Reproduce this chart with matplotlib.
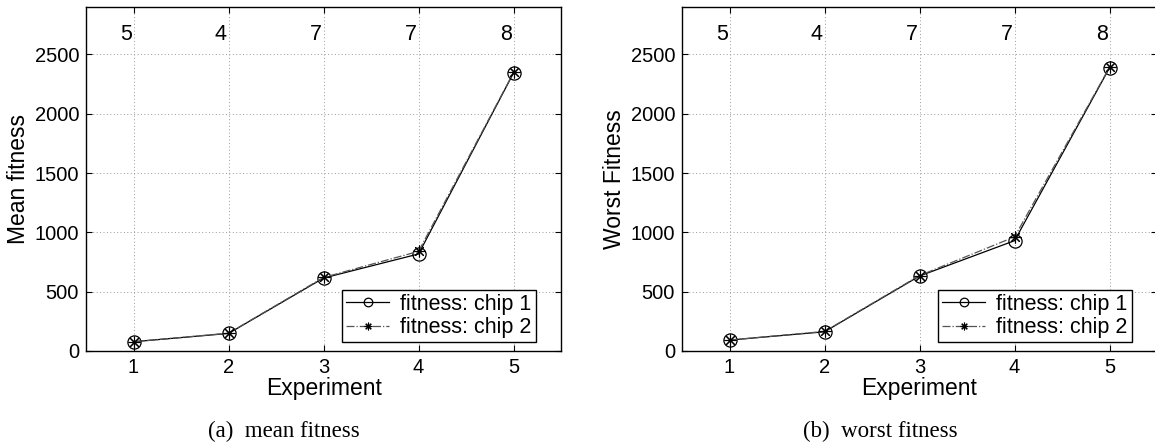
import matplotlib
matplotlib.use("Agg")
import matplotlib.pyplot as plt

experiments = [1, 2, 3, 4, 5]
top_labels = ["5", "4", "7", "7", "8"]

mean_chip1 = [78, 148, 615, 818, 2345]
mean_chip2 = [78, 150, 620, 840, 2348]

worst_chip1 = [92, 162, 632, 930, 2388]
worst_chip2 = [92, 165, 636, 962, 2392]

panels = [
    ("Mean fitness", mean_chip1, mean_chip2, "(a)  mean fitness"),
    ("Worst Fitness", worst_chip1, worst_chip2, "(b)  worst fitness"),
]

plt.rcParams['font.family'] = ['Liberation Sans', 'DejaVu Sans']

fig = plt.figure(figsize=(11.55, 4.43), dpi=100)
positions = [[0.0745, 0.2077, 0.4113, 0.7765], [0.5905, 0.2077, 0.4113, 0.7765]]
caption_x = [0.246, 0.762]

for (ylabel, c1, c2, caption), pos, cx in zip(panels, positions, caption_x):
    ax = fig.add_axes(pos)
    ax.plot(experiments, c1, color='black', lw=0.9, marker='o', ms=9.5,
            mfc='none', mec='black', mew=0.9, label='fitness: chip 1', zorder=3)
    ax.plot(experiments, c2, color='#555555', lw=0.9, ls='-.', marker=(8, 2, 0),
            ms=8.5, mec='black', mew=0.8, label='fitness: chip 2', zorder=3)
    ax.set_xlim(0.5, 5.5)
    ax.set_ylim(0, 2900)
    ax.set_xticks(experiments)
    ax.set_yticks([0, 500, 1000, 1500, 2000, 2500])
    ax.grid(True, ls=(0, (1, 2.5)), color='#999999', lw=0.7)
    ax.tick_params(direction='in', top=True, right=True, labelsize=14.5, length=4,
                   width=0.8, pad=5)
    for sp in ax.spines.values():
        sp.set_linewidth(1.0)
    ax.set_xlabel("Experiment", fontsize=16.5, labelpad=0)
    ax.set_ylabel(ylabel, fontsize=16.5, labelpad=3)
    for x, t in zip(experiments, top_labels):
        ax.text(x - 0.08, 2665, t, ha='center', va='center', fontsize=15.5)
    leg = ax.legend(loc='lower right', fontsize=15.5, handlelength=2.0,
                    fancybox=False, edgecolor='black', framealpha=1,
                    borderpad=0.2, labelspacing=0.1, handletextpad=0.5,
                    borderaxespad=0.4, bbox_to_anchor=(0.965, 0.0),
                    markerscale=0.65)
    leg.get_frame().set_linewidth(1.0)
    fig.text(cx, 0.027, caption, ha='center', va='center', fontsize=16.5,
             family='Liberation Serif')

fig.savefig("out.png", dpi=100)
